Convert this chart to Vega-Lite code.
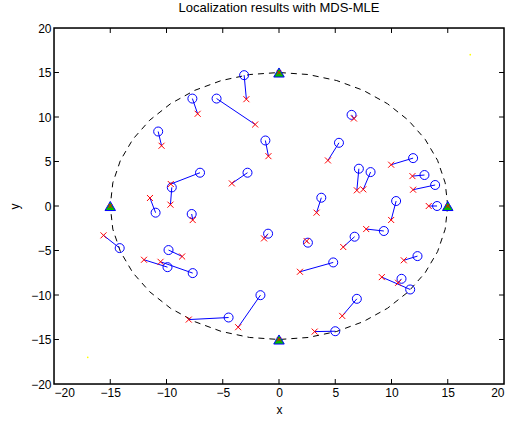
{
  "$schema": "https://vega.github.io/schema/vega-lite/v6.json",
  "autosize": "none",
  "width": 450,
  "height": 356,
  "padding": {"left": 54, "top": 28, "right": 8, "bottom": 38},
  "background": "white",
  "title": {"text": "Localization results with MDS-MLE", "font": "Liberation Sans", "fontSize": 13, "fontWeight": "normal", "color": "black", "offset": 7},
  "datasets": {
    "pairs": [
      {"xt": -2.9, "yt": 12.0, "xe": -3.1, "ye": 14.7},
      {"xt": -7.23, "yt": 10.36, "xe": -7.7, "ye": 12.07},
      {"xt": -2.12, "yt": 9.16, "xe": -5.55, "ye": 12.07},
      {"xt": -10.44, "yt": 6.77, "xe": -10.74, "ye": 8.37},
      {"xt": -0.94, "yt": 5.6, "xe": -1.21, "ye": 7.36},
      {"xt": -9.62, "yt": 2.47, "xe": -7.02, "ye": 3.74},
      {"xt": -9.65, "yt": 0.15, "xe": -9.53, "ye": 2.09},
      {"xt": -4.19, "yt": 2.54, "xe": -2.8, "ye": 3.74},
      {"xt": -11.47, "yt": 0.9, "xe": -10.97, "ye": -0.75},
      {"xt": -7.67, "yt": -1.58, "xe": -7.76, "ye": -0.9},
      {"xt": -1.33, "yt": -3.64, "xe": -0.97, "ye": -3.11},
      {"xt": -15.6, "yt": -3.3, "xe": -14.16, "ye": -4.73},
      {"xt": -8.61, "yt": -5.67, "xe": -9.82, "ye": -4.95},
      {"xt": -12.0, "yt": -6.04, "xe": -9.91, "ye": -6.87},
      {"xt": -10.53, "yt": -6.27, "xe": -7.67, "ye": -7.54},
      {"xt": -8.02, "yt": -12.76, "xe": -4.48, "ye": -12.53},
      {"xt": -3.63, "yt": -13.62, "xe": -1.65, "ye": -10.02},
      {"xt": 6.66, "yt": 9.83, "xe": 6.45, "ye": 10.24},
      {"xt": 4.35, "yt": 5.12, "xe": 5.33, "ye": 7.1},
      {"xt": 6.92, "yt": 1.76, "xe": 7.1, "ye": 4.19},
      {"xt": 7.49, "yt": 1.87, "xe": 8.14, "ye": 3.81},
      {"xt": 9.97, "yt": 4.64, "xe": 11.92, "ye": 5.38},
      {"xt": 11.86, "yt": 3.36, "xe": 12.93, "ye": 3.48},
      {"xt": 11.92, "yt": 1.83, "xe": 13.88, "ye": 2.36},
      {"xt": 3.34, "yt": -0.75, "xe": 3.76, "ye": 0.93},
      {"xt": 9.97, "yt": -1.57, "xe": 10.41, "ye": 0.56},
      {"xt": 13.31, "yt": 0.0, "xe": 14.05, "ye": 0.0},
      {"xt": 2.46, "yt": -3.94, "xe": 2.57, "ye": -4.12},
      {"xt": 5.71, "yt": -4.61, "xe": 6.72, "ye": -3.45},
      {"xt": 7.75, "yt": -2.59, "xe": 9.32, "ye": -2.81},
      {"xt": 11.09, "yt": -6.1, "xe": 12.31, "ye": -5.63},
      {"xt": 1.86, "yt": -7.39, "xe": 4.82, "ye": -6.34},
      {"xt": 10.59, "yt": -8.63, "xe": 10.89, "ye": -8.18},
      {"xt": 9.14, "yt": -7.99, "xe": 11.66, "ye": -9.38},
      {"xt": 5.62, "yt": -12.35, "xe": 6.92, "ye": -10.43},
      {"xt": 3.17, "yt": -14.11, "xe": 5.0, "ye": -14.07}
    ],
    "boundary": [
      {"i": 0, "x": 15, "y": 0}, {"i": 1, "x": 14.772, "y": 2.605}, {"i": 2, "x": 14.095, "y": 5.130},
      {"i": 3, "x": 12.990, "y": 7.5}, {"i": 4, "x": 11.491, "y": 9.642}, {"i": 5, "x": 9.642, "y": 11.491},
      {"i": 6, "x": 7.5, "y": 12.990}, {"i": 7, "x": 5.130, "y": 14.095}, {"i": 8, "x": 2.605, "y": 14.772},
      {"i": 9, "x": 0, "y": 15}, {"i": 10, "x": -2.605, "y": 14.772}, {"i": 11, "x": -5.130, "y": 14.095},
      {"i": 12, "x": -7.5, "y": 12.990}, {"i": 13, "x": -9.642, "y": 11.491}, {"i": 14, "x": -11.491, "y": 9.642},
      {"i": 15, "x": -12.990, "y": 7.5}, {"i": 16, "x": -14.095, "y": 5.130}, {"i": 17, "x": -14.772, "y": 2.605},
      {"i": 18, "x": -15, "y": 0}, {"i": 19, "x": -14.772, "y": -2.605}, {"i": 20, "x": -14.095, "y": -5.130},
      {"i": 21, "x": -12.990, "y": -7.5}, {"i": 22, "x": -11.491, "y": -9.642}, {"i": 23, "x": -9.642, "y": -11.491},
      {"i": 24, "x": -7.5, "y": -12.990}, {"i": 25, "x": -5.130, "y": -14.095}, {"i": 26, "x": -2.605, "y": -14.772},
      {"i": 27, "x": 0, "y": -15}, {"i": 28, "x": 2.605, "y": -14.772}, {"i": 29, "x": 5.130, "y": -14.095},
      {"i": 30, "x": 7.5, "y": -12.990}, {"i": 31, "x": 9.642, "y": -11.491}, {"i": 32, "x": 11.491, "y": -9.642},
      {"i": 33, "x": 12.990, "y": -7.5}, {"i": 34, "x": 14.095, "y": -5.130}, {"i": 35, "x": 14.772, "y": -2.605},
      {"i": 36, "x": 15, "y": 0}
    ],
    "box": [
      {"i": 0, "bx": -20, "by": -20}, {"i": 1, "bx": 20, "by": -20}, {"i": 2, "bx": 20, "by": 20},
      {"i": 3, "bx": -20, "by": 20}, {"i": 4, "bx": -20, "by": -20}
    ],
    "tickmarks": [
      {"t": "b-15", "i": 0, "tx": -15, "ty": -20}, {"t": "b-15", "i": 1, "tx": -15, "ty": -19.44},
      {"t": "b-10", "i": 0, "tx": -10, "ty": -20}, {"t": "b-10", "i": 1, "tx": -10, "ty": -19.44},
      {"t": "b-5", "i": 0, "tx": -5, "ty": -20}, {"t": "b-5", "i": 1, "tx": -5, "ty": -19.44},
      {"t": "b0", "i": 0, "tx": 0, "ty": -20}, {"t": "b0", "i": 1, "tx": 0, "ty": -19.44},
      {"t": "b5", "i": 0, "tx": 5, "ty": -20}, {"t": "b5", "i": 1, "tx": 5, "ty": -19.44},
      {"t": "b10", "i": 0, "tx": 10, "ty": -20}, {"t": "b10", "i": 1, "tx": 10, "ty": -19.44},
      {"t": "b15", "i": 0, "tx": 15, "ty": -20}, {"t": "b15", "i": 1, "tx": 15, "ty": -19.44},
      {"t": "t-15", "i": 0, "tx": -15, "ty": 20}, {"t": "t-15", "i": 1, "tx": -15, "ty": 19.44},
      {"t": "t-10", "i": 0, "tx": -10, "ty": 20}, {"t": "t-10", "i": 1, "tx": -10, "ty": 19.44},
      {"t": "t-5", "i": 0, "tx": -5, "ty": 20}, {"t": "t-5", "i": 1, "tx": -5, "ty": 19.44},
      {"t": "t0", "i": 0, "tx": 0, "ty": 20}, {"t": "t0", "i": 1, "tx": 0, "ty": 19.44},
      {"t": "t5", "i": 0, "tx": 5, "ty": 20}, {"t": "t5", "i": 1, "tx": 5, "ty": 19.44},
      {"t": "t10", "i": 0, "tx": 10, "ty": 20}, {"t": "t10", "i": 1, "tx": 10, "ty": 19.44},
      {"t": "t15", "i": 0, "tx": 15, "ty": 20}, {"t": "t15", "i": 1, "tx": 15, "ty": 19.44},
      {"t": "l-15", "i": 0, "tx": -20, "ty": -15}, {"t": "l-15", "i": 1, "tx": -19.56, "ty": -15},
      {"t": "l-10", "i": 0, "tx": -20, "ty": -10}, {"t": "l-10", "i": 1, "tx": -19.56, "ty": -10},
      {"t": "l-5", "i": 0, "tx": -20, "ty": -5}, {"t": "l-5", "i": 1, "tx": -19.56, "ty": -5},
      {"t": "l0", "i": 0, "tx": -20, "ty": 0}, {"t": "l0", "i": 1, "tx": -19.56, "ty": 0},
      {"t": "l5", "i": 0, "tx": -20, "ty": 5}, {"t": "l5", "i": 1, "tx": -19.56, "ty": 5},
      {"t": "l10", "i": 0, "tx": -20, "ty": 10}, {"t": "l10", "i": 1, "tx": -19.56, "ty": 10},
      {"t": "l15", "i": 0, "tx": -20, "ty": 15}, {"t": "l15", "i": 1, "tx": -19.56, "ty": 15},
      {"t": "r-15", "i": 0, "tx": 20, "ty": -15}, {"t": "r-15", "i": 1, "tx": 19.56, "ty": -15},
      {"t": "r-10", "i": 0, "tx": 20, "ty": -10}, {"t": "r-10", "i": 1, "tx": 19.56, "ty": -10},
      {"t": "r-5", "i": 0, "tx": 20, "ty": -5}, {"t": "r-5", "i": 1, "tx": 19.56, "ty": -5},
      {"t": "r0", "i": 0, "tx": 20, "ty": 0}, {"t": "r0", "i": 1, "tx": 19.56, "ty": 0},
      {"t": "r5", "i": 0, "tx": 20, "ty": 5}, {"t": "r5", "i": 1, "tx": 19.56, "ty": 5},
      {"t": "r10", "i": 0, "tx": 20, "ty": 10}, {"t": "r10", "i": 1, "tx": 19.56, "ty": 10},
      {"t": "r15", "i": 0, "tx": 20, "ty": 15}, {"t": "r15", "i": 1, "tx": 19.56, "ty": 15}
    ],
    "anchors": [
      {"x": 15, "y": 0}, {"x": -15, "y": 0}, {"x": 0, "y": 15}, {"x": 0, "y": -15}
    ],
    "corners": [
      {"x": -17, "y": -17}, {"x": 17, "y": 17}
    ]
  },
  "layer": [
    {
      "data": {"name": "boundary"},
      "mark": {"type": "line", "color": "black", "strokeWidth": 1, "strokeDash": [6, 5]},
      "encoding": {
        "x": {"field": "x", "type": "quantitative", "scale": {"domain": [-20, 20], "nice": false, "zero": false},
              "axis": {"orient": "bottom", "title": "x", "values": [-20, -15, -10, -5, 0, 5, 10, 15, 20],
                       "grid": false, "domain": false, "ticks": true, "tickSize": -5, "tickOpacity": 0,
                       "labelFont": "Liberation Sans", "labelFontSize": 12, "labelColor": "black", "labelPadding": 8,
                       "titleFont": "Liberation Sans", "titleFontSize": 12, "titleFontWeight": "normal", "titleColor": "black", "titlePadding": 6}},
        "y": {"field": "y", "type": "quantitative", "scale": {"domain": [-20, 20], "nice": false, "zero": false},
              "axis": {"orient": "left", "title": "y", "values": [-20, -15, -10, -5, 0, 5, 10, 15, 20],
                       "grid": false, "domain": false, "ticks": true, "tickSize": -5, "tickOpacity": 0,
                       "labelFont": "Liberation Sans", "labelFontSize": 12, "labelColor": "black", "labelPadding": 8,
                       "titleFont": "Liberation Sans", "titleFontSize": 12, "titleFontWeight": "normal", "titleColor": "black", "titlePadding": 9}},
        "order": {"field": "i", "type": "quantitative"}
      }
    },
    {
      "data": {"name": "box"},
      "mark": {"type": "line", "color": "#000000", "strokeWidth": 1.5, "strokeDash": [1000, 0], "strokeCap": "square"},
      "encoding": {
        "x": {"field": "bx", "type": "quantitative", "axis": null},
        "y": {"field": "by", "type": "quantitative", "axis": null},
        "order": {"field": "i", "type": "quantitative"}
      }
    },
    {
      "data": {"name": "tickmarks"},
      "mark": {"type": "line", "color": "#000000", "strokeWidth": 1},
      "encoding": {
        "x": {"field": "tx", "type": "quantitative", "axis": null},
        "y": {"field": "ty", "type": "quantitative", "axis": null},
        "detail": {"field": "t", "type": "nominal"},
        "order": {"field": "i", "type": "quantitative"}
      }
    },
    {
      "data": {"name": "pairs"},
      "mark": {"type": "rule", "color": "#0000ff", "strokeWidth": 1},
      "encoding": {
        "x": {"field": "xt", "type": "quantitative", "axis": null},
        "y": {"field": "yt", "type": "quantitative", "axis": null},
        "x2": {"field": "xe"},
        "y2": {"field": "ye"}
      }
    },
    {
      "data": {"name": "pairs"},
      "mark": {"type": "point", "shape": "circle", "size": 81, "color": "#0000ff", "strokeWidth": 1, "opacity": 1},
      "encoding": {
        "x": {"field": "xe", "type": "quantitative", "axis": null},
        "y": {"field": "ye", "type": "quantitative", "axis": null}
      }
    },
    {
      "data": {"name": "pairs"},
      "mark": {"type": "point", "shape": "M -1 -1 L 1 1 M -1 1 L 1 -1", "size": 36, "color": "#ff0000", "strokeWidth": 1, "opacity": 1},
      "encoding": {
        "x": {"field": "xt", "type": "quantitative", "axis": null},
        "y": {"field": "yt", "type": "quantitative", "axis": null}
      }
    },
    {
      "data": {"name": "anchors"},
      "mark": {"type": "point", "shape": "triangle-up", "size": 110, "filled": true, "fill": "#00c000", "stroke": "#0000ff", "strokeWidth": 1, "opacity": 1},
      "encoding": {
        "x": {"field": "x", "type": "quantitative", "axis": null},
        "y": {"field": "y", "type": "quantitative", "axis": null}
      }
    },
    {
      "data": {"name": "anchors"},
      "mark": {"type": "point", "shape": "M -1 -1 L 1 1 M -1 1 L 1 -1", "size": 16, "color": "#ff0000", "strokeWidth": 1, "opacity": 1},
      "encoding": {
        "x": {"field": "x", "type": "quantitative", "axis": null},
        "y": {"field": "y", "type": "quantitative", "axis": null}
      }
    },
    {
      "data": {"name": "corners"},
      "mark": {"type": "point", "shape": "circle", "size": 3, "filled": true, "color": "#ffff00", "opacity": 1},
      "encoding": {
        "x": {"field": "x", "type": "quantitative", "axis": null},
        "y": {"field": "y", "type": "quantitative", "axis": null}
      }
    }
  ],
  "resolve": {"axis": {"x": "independent", "y": "independent"}}
}
